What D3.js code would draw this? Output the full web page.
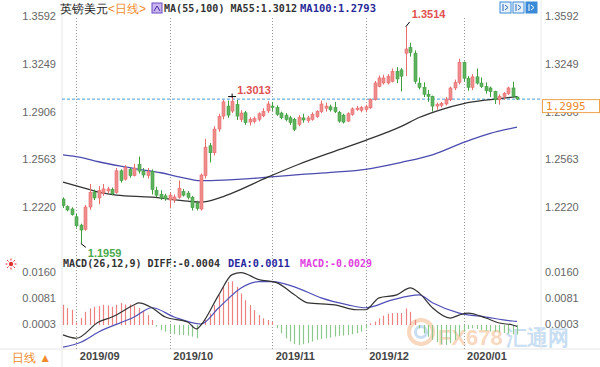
<!DOCTYPE html>
<html><head><meta charset="utf-8">
<script src="https://cdn.jsdelivr.net/npm/d3@7"></script>
<style>
body{margin:0;background:#fff}
svg{display:block}
text{font-family:"Liberation Sans",Arial,sans-serif}
.mono{font-family:"DejaVu Sans Mono","Liberation Mono",monospace}
</style>
</head><body>
<svg id="c" width="600" height="367"></svg>
<script>
// ---------- DATA ----------
const title = "英镑美元";
const period = "<日线>";
const dateLabels = ["2019/09","2019/10","2019/11","2019/12","2020/01"];
const dateIdx = [3,24,47,68,90];
const priceTicks = [1.3592,1.3249,1.2906,1.2563,1.2220];
const macdTicks = [0.0160,0.0081,0.0003];
const lastPrice = 1.2995;

const open = [1.2277,1.2223,1.2206,1.2150,1.2090,1.2060,1.2220,1.2325,1.2285,1.2320,1.2335,1.2345,1.2325,1.2480,1.2420,1.2490,1.2445,1.2525,1.2478,1.2445,
1.2475,1.2340,1.2310,1.2300,1.2270,1.2270,1.2290,1.2330,1.2320,1.2290,1.2245,1.2205,1.2445,1.2660,1.2610,1.2780,1.2873,1.2945,1.2909,1.2956,
1.2849,1.2897,1.2830,1.2835,1.2850,1.2875,1.2910,1.2945,1.2935,1.2895,1.2880,1.2861,1.2850,1.2814,1.2860,1.2840,1.2850,1.2870,1.2905,1.2930,
1.2940,1.2935,1.2900,1.2880,1.2837,1.2885,1.2920,1.2915,1.2920,1.2933,1.2992,1.3087,1.3111,1.3111,1.3123,1.3194,1.3205,1.3325,1.3365,1.3325,
1.3110,1.3080,1.3030,1.3015,1.2945,1.2950,1.2960,1.2990,1.3075,1.3115,1.3260,1.3145,1.3080,1.3155,1.3110,1.3085,1.3075,1.3050,1.2990,1.3015,
1.3035,1.3075,1.3010];
const high = [1.2289,1.2232,1.2218,1.2170,1.2100,1.2235,1.2385,1.2345,1.2370,1.2385,1.2365,1.2360,1.2500,1.2490,1.2520,1.2500,1.2530,1.2582,1.2500,1.2500,
1.2490,1.2365,1.2340,1.2315,1.2325,1.2310,1.2410,1.2350,1.2335,1.2300,1.2265,1.2460,1.2710,1.2680,1.2800,1.2890,1.2990,1.2985,1.3013,1.2990,
1.2915,1.2910,1.2865,1.2870,1.2900,1.2930,1.2980,1.2975,1.2950,1.2905,1.2895,1.2875,1.2860,1.2880,1.2890,1.2875,1.2900,1.2915,1.2985,1.2970,
1.2955,1.2975,1.2910,1.2890,1.2900,1.2935,1.2945,1.2945,1.2955,1.3000,1.3125,1.3165,1.3170,1.3175,1.3215,1.3225,1.3218,1.3514,1.3400,1.3345,
1.3150,1.3115,1.3060,1.3020,1.2970,1.2975,1.3010,1.3085,1.3135,1.3285,1.3265,1.3160,1.3175,1.3215,1.3150,1.3115,1.3085,1.3055,1.3030,1.3045,
1.3085,1.3120,1.3015];
const low = [1.2213,1.2189,1.2158,1.2072,1.1959,1.2050,1.2200,1.2270,1.2240,1.2300,1.2320,1.2305,1.2315,1.2395,1.2410,1.2430,1.2440,1.2460,1.2430,1.2425,
1.2310,1.2290,1.2270,1.2265,1.2210,1.2250,1.2280,1.2295,1.2275,1.2195,1.2195,1.2195,1.2425,1.2540,1.2590,1.2760,1.2850,1.2860,1.2895,1.2845,
1.2830,1.2810,1.2805,1.2820,1.2835,1.2865,1.2895,1.2910,1.2875,1.2850,1.2835,1.2810,1.2765,1.2800,1.2825,1.2825,1.2840,1.2860,1.2895,1.2905,
1.2905,1.2895,1.2825,1.2820,1.2830,1.2875,1.2910,1.2900,1.2900,1.2925,1.2985,1.3080,1.3100,1.3100,1.3115,1.3110,1.3051,1.3160,1.3300,1.3105,
1.3065,1.3010,1.2975,1.2905,1.2920,1.2935,1.2950,1.2980,1.3060,1.3100,1.3120,1.3055,1.3060,1.3100,1.3075,1.3035,1.3010,1.2960,1.2955,1.2990,
1.3025,1.3005,1.2990];
const close = [1.2230,1.2199,1.2165,1.2085,1.2055,1.2220,1.2325,1.2285,1.2340,1.2350,1.2350,1.2315,1.2480,1.2410,1.2505,1.2445,1.2500,1.2478,1.2450,1.2475,
1.2345,1.2305,1.2285,1.2278,1.2305,1.2292,1.2355,1.2305,1.2290,1.2215,1.2210,1.2450,1.2650,1.2610,1.2780,1.2870,1.2975,1.2880,1.2980,1.2873,
1.2895,1.2826,1.2850,1.2855,1.2890,1.2905,1.2960,1.2935,1.2885,1.2861,1.2849,1.2826,1.2778,1.2865,1.2845,1.2860,1.2885,1.2905,1.2960,1.2945,
1.2918,1.2905,1.2837,1.2830,1.2890,1.2925,1.2930,1.2935,1.2940,1.2992,1.3111,1.3147,1.3147,1.3159,1.3194,1.3140,1.3160,1.3355,1.3330,1.3123,
1.3080,1.3030,1.3015,1.2945,1.2955,1.2965,1.2995,1.3075,1.3115,1.3260,1.3145,1.3080,1.3155,1.3110,1.3085,1.3055,1.3050,1.2990,1.3015,1.3035,
1.3075,1.3015,1.2995];

const ma55Idx = [0,4,8,12,20,28,31,35,38,46,53,61,68,76,80,85,90,95,98,102];
const ma55Val = [1.2398,1.2363,1.2327,1.2305,1.2291,1.2262,1.2255,1.2284,1.2320,1.2434,1.2527,1.2620,1.2699,1.2799,1.2863,1.2920,1.2963,1.2988,1.2999,1.3012];
const ma100Idx = [0,4,8,13,17,22,26,31,36,46,53,61,68,76,83,90,96,102];
const ma100Val = [1.2595,1.2577,1.2545,1.2513,1.2491,1.2466,1.2437,1.2409,1.2413,1.2434,1.2452,1.2470,1.2491,1.2541,1.2595,1.2684,1.2749,1.2793];

const diffIdx = [0,3,8,11,16,17,20,23,28,30,31,35,38,40,44,48,52,55,61,66,68,71,75,78,80,83,87,89,91,95,98,101,102];
const diffVal = [-0.0030,-0.0040,0.0009,0.0024,0.0061,0.0067,0.0052,0.0024,0.0009,-0.0012,0.0000,0.0091,0.0152,0.0158,0.0137,0.0128,0.0091,0.0067,0.0061,0.0046,0.0046,0.0082,0.0091,0.0112,0.0097,0.0052,0.0021,0.0030,0.0036,0.0021,0.0006,0.0000,-0.0004];
const deaIdx = [0,4,8,16,20,25,31,35,40,44,47,52,58,64,68,74,80,83,89,95,101,102];
const deaVal = [-0.0067,-0.0052,-0.0021,0.0024,0.0052,0.0024,0.0003,0.0052,0.0112,0.0131,0.0131,0.0115,0.0082,0.0061,0.0052,0.0076,0.0091,0.0067,0.0036,0.0024,0.0012,0.0011];
const macdHist = [0.0061,0.0051,0.0046,0.0008,0.0021,0.0040,0.0050,0.0055,0.0057,0.0061,0.0059,0.0055,0.0061,0.0066,0.0062,0.0062,0.0058,0.0051,0.0043,0.0030,
0.0015,-0.0005,-0.0015,-0.0020,-0.0025,-0.0028,-0.0030,-0.0030,-0.0032,-0.0035,-0.0040,0.0005,0.0015,0.0035,0.0060,0.0090,0.0115,0.0130,0.0132,0.0115,
0.0095,0.0075,0.0060,0.0045,0.0030,0.0020,0.0015,0.0010,-0.0010,-0.0025,-0.0040,-0.0050,-0.0058,-0.0060,-0.0058,-0.0055,-0.0050,-0.0045,-0.0042,-0.0040,
-0.0038,-0.0035,-0.0033,-0.0032,-0.0030,-0.0028,-0.0025,-0.0020,-0.0010,0.0005,0.0010,0.0020,0.0028,0.0034,0.0036,0.0036,0.0036,0.0050,0.0040,0.0015,
-0.0010,-0.0025,-0.0035,-0.0045,-0.0052,-0.0058,-0.0060,-0.0055,-0.0045,-0.0035,-0.0020,-0.0012,-0.0010,-0.0012,-0.0015,-0.0018,-0.0020,-0.0020,-0.0022,-0.0024,
-0.0026,-0.0028,-0.0029];

// ---------- SCALES ----------
const svg = d3.select("#c");
const N = close.length;
const x = d3.scaleLinear().domain([0, N-1]).range([63, 517]);
const y = d3.scaleLinear().domain([priceTicks[4], priceTicks[0]]).range([207, 16]);
const yM = d3.scaleLinear().domain([macdTicks[2], macdTicks[0]]).range([324, 272]);

const RED = "#e86c6c", REDF = "#f08c8c", GRN = "#3f9f3f", GRNF = "#5fb35f";

// watermark (drawn first, behind everything)
const wm = svg.append("g").attr("opacity",0.55);
wm.append("circle").attr("cx",421).attr("cy",332).attr("r",12).attr("fill","none").attr("stroke","#f4b98a").attr("stroke-width",4);
wm.append("circle").attr("cx",421).attr("cy",332).attr("r",5.5).attr("fill","none").attr("stroke","#9cc4ea").attr("stroke-width",3);
wm.append("text").attr("x",438).attr("y",345).attr("font-size",22).attr("font-weight","bold").attr("fill","#f4b98a").text("FX678");
wm.append("text").attr("x",506).attr("y",345).attr("font-size",21).attr("font-weight","bold").attr("font-family","Noto Sans CJK SC").attr("fill","#9cc4ea").text("汇通网");

// frame lines
svg.append("line").attr("x1",62).attr("x2",62).attr("y1",0).attr("y2",367).attr("stroke","#e6e6e6");
svg.append("line").attr("x1",541).attr("x2",541).attr("y1",0).attr("y2",349).attr("stroke","#ececec");
svg.append("line").attr("x1",0).attr("x2",600).attr("y1",349).attr("y2",349).attr("stroke","#e6e6e6");

// vertical dotted grid
svg.append("g").selectAll("line").data(dateIdx).join("line")
  .attr("x1",d=>Math.round(x(d))+0.5).attr("x2",d=>Math.round(x(d))+0.5)
  .attr("y1",18).attr("y2",349)
  .attr("stroke","#9a9a9a").attr("stroke-dasharray","1,2");

// clip for main
svg.append("clipPath").attr("id","mainclip").append("rect").attr("x",62).attr("y",0).attr("width",479).attr("height",258);
const main = svg.append("g").attr("clip-path","url(#mainclip)");

// current price dashed line
main.append("line").attr("x1",62).attr("x2",541).attr("y1",y(lastPrice)).attr("y2",y(lastPrice))
  .attr("stroke","#4a9ad6").attr("stroke-dasharray","3,2");

// MA lines
const lineMA = d3.line().x(d=>x(d[0])).y(d=>y(d[1])).curve(d3.curveMonotoneX);
main.append("path").datum(ma100Idx.map((d,i)=>[d,ma100Val[i]])).attr("d",lineMA)
  .attr("fill","none").attr("stroke","#4b4bb0").attr("stroke-width",1.3);
main.append("path").datum(ma55Idx.map((d,i)=>[d,ma55Val[i]])).attr("d",lineMA)
  .attr("fill","none").attr("stroke","#333").attr("stroke-width",1.3);

// candles
const cd = d3.range(N).map(i=>({i,o:open[i],h:high[i],l:low[i],c:close[i]}));
const cg = main.append("g").selectAll("g").data(cd).join("g");
cg.append("line").attr("x1",d=>Math.round(x(d.i))+0.5).attr("x2",d=>Math.round(x(d.i))+0.5)
  .attr("y1",d=>y(d.h)).attr("y2",d=>y(d.l))
  .attr("stroke",d=>d.c>=d.o?RED:GRN);
cg.append("rect").attr("x",d=>Math.round(x(d.i))-1).attr("width",3)
  .attr("y",d=>y(Math.max(d.o,d.c))).attr("height",d=>Math.max(1,Math.abs(y(d.o)-y(d.c))))
  .attr("fill",d=>d.c>=d.o?REDF:GRNF).attr("stroke",d=>d.c>=d.o?RED:GRN).attr("stroke-width",0.6);

// annotations high/low
function extremeIdx(arr, fn){ let k=0; arr.forEach((v,i)=>{ if(fn(v,arr[k])) k=i; }); return k; }
const hiIdx = extremeIdx(high,(a,b)=>a>b);
const loIdx = extremeIdx(low,(a,b)=>a<b);
const localHiIdx = 38;
svg.append("line").attr("x1",x(hiIdx)).attr("y1",y(high[hiIdx])).attr("x2",x(hiIdx)+4).attr("y2",y(high[hiIdx])-5).attr("stroke","#000");
svg.append("text").attr("x",x(hiIdx)+6).attr("y",y(high[hiIdx])-9).attr("fill","#e05050").attr("font-size",11).attr("font-weight","bold").text(high[hiIdx].toFixed(4));
svg.append("line").attr("x1",x(localHiIdx)-4).attr("x2",x(localHiIdx)+4).attr("y1",y(high[localHiIdx])).attr("y2",y(high[localHiIdx])).attr("stroke","#000");
svg.append("line").attr("x1",x(localHiIdx)).attr("x2",x(localHiIdx)).attr("y1",y(high[localHiIdx])-3).attr("y2",y(high[localHiIdx])+1).attr("stroke","#000");
svg.append("text").attr("x",x(localHiIdx)+5).attr("y",y(high[localHiIdx])-3).attr("fill","#e05050").attr("font-size",11).attr("font-weight","bold").text(high[localHiIdx].toFixed(4));
const lowG = svg.append("g").attr("clip-path","url(#mainclip)");
lowG.append("line").attr("x1",x(loIdx)).attr("y1",y(low[loIdx])).attr("x2",x(loIdx)+5).attr("y2",y(low[loIdx])+4).attr("stroke","#000");
lowG.append("text").attr("x",x(loIdx)+7).attr("y",y(low[loIdx])+14).attr("fill","#4aa84a").attr("font-size",11).attr("font-weight","bold").text(low[loIdx].toFixed(4));

// price axes
const fmt4 = d3.format(".4f");
const axL = svg.append("g").attr("transform","translate(60,0)").call(d3.axisLeft(y).tickValues(priceTicks).tickFormat(fmt4).tickSize(0).tickPadding(4));
const axR = svg.append("g").attr("transform","translate(541,0)").call(d3.axisRight(y).tickValues(priceTicks).tickFormat(fmt4).tickSize(0).tickPadding(4));
[axL,axR].forEach(a=>{a.select(".domain").remove(); a.selectAll("text").attr("fill","#666").attr("font-size",11).attr("font-family","Liberation Sans, Arial, sans-serif");});

// last price box
svg.append("rect").attr("x",542.5).attr("y",y(lastPrice)+0.5).attr("width",57).attr("height",13).attr("fill","#fff").attr("stroke","#f0a04a");
svg.append("text").attr("class","mono").attr("x",546).attr("y",y(lastPrice)+11).attr("fill","#ee8a2a").attr("font-size",11).text(lastPrice.toFixed(4));

// header
svg.append("text").attr("x",60).attr("y",13).attr("font-size",12).attr("font-family","Noto Sans CJK SC").attr("fill","#222").text(title);
svg.append("text").attr("x",108).attr("y",13).attr("font-size",12).attr("font-family","Noto Sans CJK SC").attr("fill","#f08a2a").text(period);
const ic = svg.append("g").attr("transform","translate(152,3)");
ic.append("rect").attr("width",10).attr("height",10).attr("fill","#c9b6f0").attr("stroke","#6a4ac0");
ic.append("path").attr("d","M2,8 L5,3 L8,8").attr("fill","none").attr("stroke","#4a2aa0");
svg.append("text").attr("class","mono").attr("x",164).attr("y",12).attr("font-size",10).attr("font-weight","bold").attr("fill","#333")
  .attr("textLength",133).attr("lengthAdjust","spacingAndGlyphs").text(`MA(55,100) MA55:${ma55Val[ma55Val.length-1].toFixed(4)}`);
svg.append("text").attr("class","mono").attr("x",300).attr("y",12).attr("font-size",10).attr("font-weight","bold").attr("fill","#2a2a9a")
  .attr("textLength",76).attr("lengthAdjust","spacingAndGlyphs").text(`MA100:${ma100Val[ma100Val.length-1].toFixed(4)}`);
// top right buttons
[0,1,2].forEach(k=>{
  const g = svg.append("g").attr("transform",`translate(${500+k*13},2)`);
  g.append("rect").attr("width",11).attr("height",11).attr("fill",k==2?"#3a8ad8":"#e8f2fc").attr("stroke","#3a8ad8");
  g.append("path").attr("d","M3,2 V9 M5,3 L8,5.5 L5,8").attr("fill","none").attr("stroke",k==2?"#fff":"#2a6ab8");
});

// ---------- MACD PANEL ----------
svg.append("clipPath").attr("id","mclip").append("rect").attr("x",62).attr("y",258).attr("width",479).attr("height",91);
const mg = svg.append("g").attr("clip-path","url(#mclip)");
mg.selectAll("line.h").data(macdHist).join("line").attr("class","h")
  .attr("x1",(d,i)=>Math.round(x(i))+0.5).attr("x2",(d,i)=>Math.round(x(i))+0.5)
  .attr("y1",yM(0)).attr("y2",d=>yM(d))
  .attr("stroke",d=>d>=0?"#ee8080":"#8cc88c").attr("stroke-width",1.2);
const lineM = d3.line().x(d=>x(d[0])).y(d=>yM(d[1])).curve(d3.curveMonotoneX);
mg.append("path").datum(deaIdx.map((d,i)=>[d,deaVal[i]])).attr("d",lineM).attr("fill","none").attr("stroke","#5050b8").attr("stroke-width",1.2);
mg.append("path").datum(diffIdx.map((d,i)=>[d,diffVal[i]])).attr("d",lineM).attr("fill","none").attr("stroke","#333").attr("stroke-width",1.2);

const fmtM = d3.format(".4f");
const mL = svg.append("g").attr("transform","translate(60,0)").call(d3.axisLeft(yM).tickValues(macdTicks).tickFormat(fmtM).tickSize(0).tickPadding(4));
const mR = svg.append("g").attr("transform","translate(541,0)").call(d3.axisRight(yM).tickValues(macdTicks).tickFormat(fmtM).tickSize(0).tickPadding(4));
[mL,mR].forEach(a=>{a.select(".domain").remove(); a.selectAll("text").attr("fill","#666").attr("font-size",11).attr("font-family","Liberation Sans, Arial, sans-serif");});

// MACD header
const lastDiff = diffVal[diffVal.length-1], lastDea = deaVal[deaVal.length-1], lastHist = macdHist[macdHist.length-1];
svg.append("text").attr("class","mono").attr("x",63).attr("y",267).attr("font-size",10).attr("font-weight","bold").attr("fill","#333")
  .attr("textLength",157).attr("lengthAdjust","spacingAndGlyphs").text(`MACD(26,12,9) DIFF:${lastDiff.toFixed(4)}`);
svg.append("text").attr("class","mono").attr("x",228).attr("y",267).attr("font-size",10).attr("font-weight","bold").attr("fill","#2a2aa0")
  .attr("textLength",62).attr("lengthAdjust","spacingAndGlyphs").text(`DEA:${lastDea.toFixed(4)}`);
svg.append("text").attr("class","mono").attr("x",300).attr("y",267).attr("font-size",10).attr("font-weight","bold").attr("fill","#e040e0")
  .attr("textLength",72).attr("lengthAdjust","spacingAndGlyphs").text(`MACD:${lastHist.toFixed(4)}`);
// sun icon
const sun = svg.append("g").attr("transform","translate(11,264)");
sun.append("circle").attr("r",2.2).attr("fill","#e03030");
d3.range(8).forEach(k=>{const a=k*Math.PI/4; sun.append("line").attr("x1",Math.cos(a)*3.5).attr("y1",Math.sin(a)*3.5).attr("x2",Math.cos(a)*5.5).attr("y2",Math.sin(a)*5.5).attr("stroke","#e03030");});

// date axis
const ax = svg.append("g").attr("transform","translate(0,350)").call(d3.axisBottom(x).tickValues(dateIdx).tickFormat((d,i)=>dateLabels[i]).tickSize(0).tickPadding(0));
ax.select(".domain").remove();
ax.selectAll("text").attr("text-anchor","start").attr("dx",3).attr("dy","0.95em").attr("fill","#444").attr("font-size",11).attr("font-weight","bold").attr("font-family","Liberation Sans, Arial, sans-serif");
svg.append("text").attr("x",12).attr("y",362).attr("font-size",12).attr("font-family","Noto Sans CJK SC").attr("fill","#f08a2a").text("日线 ▲");
</script>
</body></html>
